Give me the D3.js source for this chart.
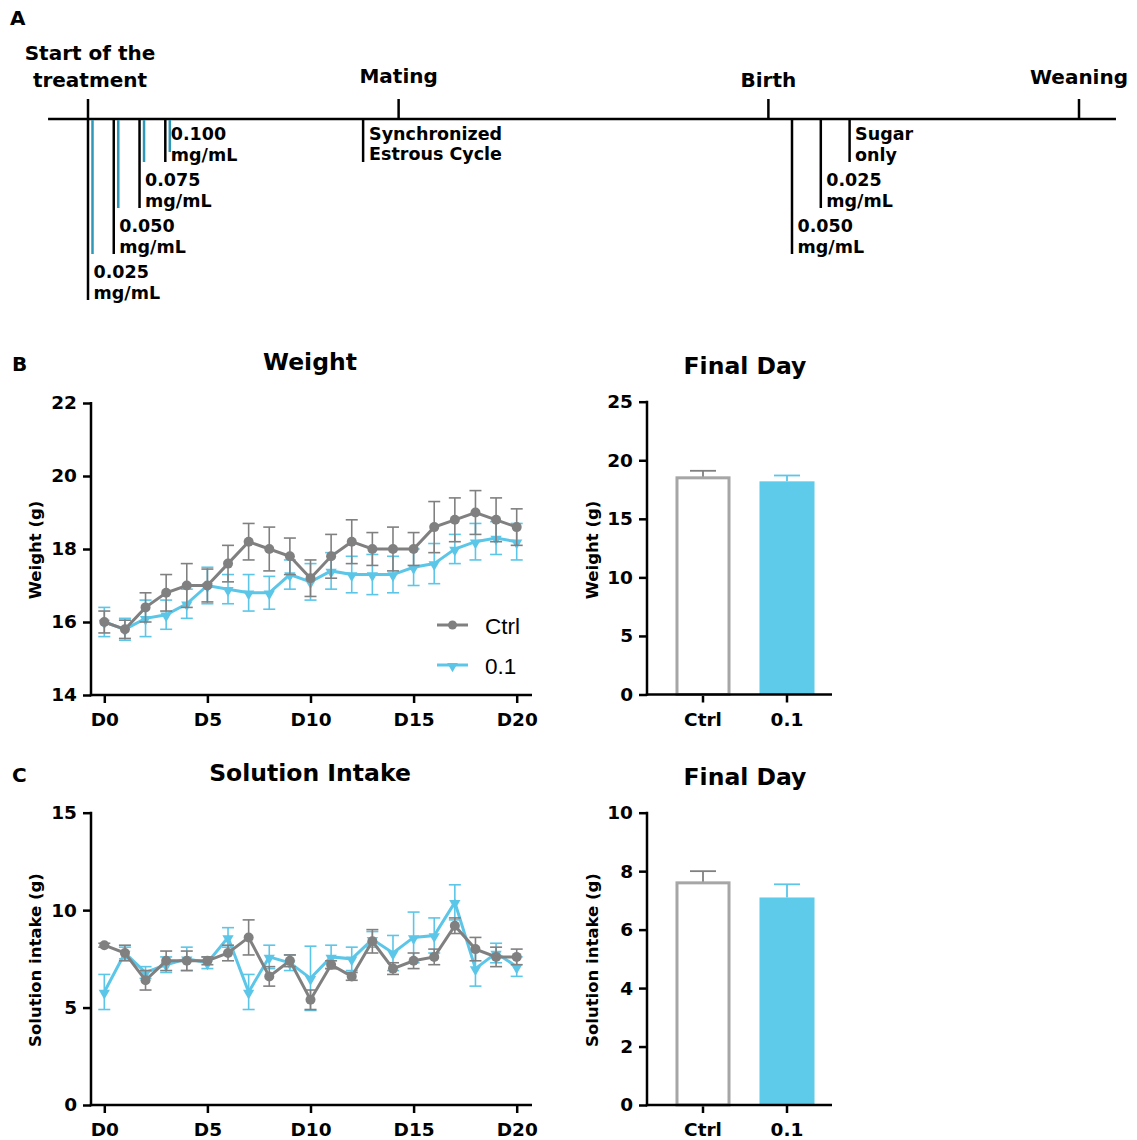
<!DOCTYPE html>
<html><head><meta charset="utf-8">
<script src="https://cdn.jsdelivr.net/npm/d3@7"></script>
<style>
body{margin:0;background:#fff}
svg{display:block}
text{font-family:"DejaVu Sans",sans-serif;font-weight:bold;fill:#000}
</style>
</head><body>
<svg id="fig" width="1137" height="1140"></svg>
<script>
// ---------------- DATA ----------------
const dayLabels = ["D0","D5","D10","D15","D20"];
const dayTicks = [0,5,10,15,20];
const days = [0,1,2,3,4,5,6,7,8,9,10,11,12,13,14,15,16,17,18,19,20];
const seriesNames = ["Ctrl","0.1"];

const weightCtrl    = [16.0,15.8,16.4,16.8,17.0,17.0,17.6,18.2,18.0,17.8,17.2,17.8,18.2,18.0,18.0,18.0,18.6,18.8,19.0,18.8,18.6];
const weightCtrlErr = [0.3,0.25,0.4,0.5,0.6,0.45,0.5,0.5,0.6,0.5,0.5,0.6,0.6,0.45,0.6,0.45,0.7,0.6,0.6,0.6,0.5];
const weightDose    = [16.0,15.8,16.1,16.2,16.5,17.0,16.9,16.8,16.8,17.3,17.1,17.4,17.3,17.3,17.3,17.5,17.6,18.0,18.2,18.3,18.2];
const weightDoseErr = [0.4,0.3,0.5,0.4,0.4,0.5,0.4,0.5,0.45,0.4,0.5,0.5,0.5,0.55,0.5,0.5,0.55,0.4,0.5,0.45,0.5];

const intakeCtrl    = [8.2,7.8,6.4,7.4,7.4,7.4,7.8,8.6,6.6,7.4,5.4,7.2,6.6,8.4,7.0,7.4,7.6,9.2,8.0,7.6,7.6];
const intakeCtrlErr = [0.1,0.4,0.5,0.5,0.5,0.2,0.4,0.9,0.5,0.3,0.5,0.2,0.2,0.6,0.3,0.4,0.4,0.4,0.6,0.5,0.4];
const intakeDose    = [5.8,7.8,6.8,7.2,7.5,7.3,8.6,5.8,7.6,7.3,6.5,7.6,7.5,8.5,7.8,8.6,8.7,10.4,7.0,7.8,7.1];
const intakeDoseErr = [0.9,0.3,0.3,0.4,0.6,0.3,0.5,0.9,0.6,0.4,1.65,0.6,0.6,0.4,0.9,1.3,0.9,0.9,0.9,0.5,0.5];

const finalWeight    = [18.5,18.2];
const finalWeightErr = [0.6,0.5];
const finalIntake    = [7.6,7.1];
const finalIntakeErr = [0.4,0.45];

const weightTicks = [14,16,18,20,22];
const intakeTicks = [0,5,10,15];
const finalWeightTicks = [0,5,10,15,20,25];
const finalIntakeTicks = [0,2,4,6,8,10];

// timeline (days from start of treatment)
const milestones = [
  {lines:["Start of the","treatment"], day:0},
  {lines:["Mating"], day:21},
  {lines:["Birth"], day:46},
  {lines:["Weaning"], day:67}
];
const doseStepsUp   = ["0.025","0.050","0.075","0.100"];   // increasing doses
const doseStepsDown = ["0.050","0.025","Sugar"];           // tapering after birth
const syncEvent = {lines:["Synchronized","Estrous Cycle"], day:18.6};

// ---------------- STYLE ----------------
const GRAY = "#808080", CYAN = "#5bc6e8", BARCYAN = "#5ecbea", BARGRAY = "#a6a6a6", TEAL = "#2f97b8";
const svg = d3.select("#fig");

function txt(g, x, y, s, size, anchor, weight, family) {
  return g.append("text").attr("x", x).attr("y", y).attr("dy", "0.35em")
    .attr("text-anchor", anchor || "start").style("font-size", size + "px")
    .style("font-weight", weight || "bold").style("font-family", family || null).text(s);
}

// ---------------- PANEL A ----------------
(function(){
  const g = svg.append("g");
  txt(g, 10, 18, "A", 20);
  const x = d3.scaleLinear().domain([0, 67]).range([88, 1079]);
  const yLine = 119;
  g.append("line").attr("x1", x(-2.7)).attr("x2", x(69.5)).attr("y1", yLine).attr("y2", yLine)
    .attr("stroke", "#000").attr("stroke-width", 2.5);
  const labelY = [[53,80],[76],[80],[77]];
  milestones.forEach((m, i) => {
    g.append("line").attr("x1", x(m.day)).attr("x2", x(m.day)).attr("y1", 99).attr("y2", yLine)
      .attr("stroke", "#000").attr("stroke-width", 2.5);
    m.lines.forEach((l, j) => txt(g, x(m.day) + (i === 0 ? 2 : 0), labelY[i][j], l, 20, "middle"));
  });
  g.append("line").attr("x1", x(syncEvent.day)).attr("x2", x(syncEvent.day)).attr("y1", yLine).attr("y2", 162)
    .attr("stroke", "#000").attr("stroke-width", 2.5);
  syncEvent.lines.forEach((l, j) => txt(g, x(syncEvent.day) + 6, 134 + j * 20, l, 17.5, "start"));

  const step = d3.scalePoint().domain(doseStepsUp).range([88, 165.3]);
  const depth = d3.scalePoint().domain(doseStepsUp).range([300, 162]);
  doseStepsUp.forEach((d, i) => {
    const xx = step(d);
    g.append("line").attr("x1", xx).attr("x2", xx).attr("y1", yLine).attr("y2", depth(d))
      .attr("stroke", "#000").attr("stroke-width", 2.5);
    const tealEnd = i < 3 ? depth(doseStepsUp[i + 1]) : 152;
    g.append("line").attr("x1", xx + 4.5).attr("x2", xx + 4.5).attr("y1", yLine + 1).attr("y2", tealEnd)
      .attr("stroke", TEAL).attr("stroke-width", 2.5);
    const ty = depth(d) - 28;
    txt(g, xx + 5.5, ty, d, 17.5, "start");
    txt(g, xx + 5.5, ty + 20.5, "mg/mL", 17.5, "start");
  });
  const step2 = d3.scalePoint().domain(doseStepsDown).range([792, 849.6]);
  const depth2 = d3.scalePoint().domain(doseStepsDown).range([254, 162]);
  doseStepsDown.forEach((d) => {
    const xx = step2(d);
    g.append("line").attr("x1", xx).attr("x2", xx).attr("y1", yLine).attr("y2", depth2(d))
      .attr("stroke", "#000").attr("stroke-width", 2.5);
    const ty = depth2(d) - 28;
    txt(g, xx + 5.5, ty, d, 17.5, "start");
    txt(g, xx + 5.5, ty + 20.5, d === "Sugar" ? "only" : "mg/mL", 17.5, "start");
  });
})();

// ---------------- helpers for axes ----------------
function styleAxis(sel, fontSize) {
  sel.selectAll("path.domain").remove();
  sel.selectAll(".tick line").attr("stroke", "#000").attr("stroke-width", 2.5);
  sel.selectAll(".tick text").style("font-size", fontSize + "px").style("font-family", "DejaVu Sans").style("font-weight", "bold").attr("fill", "#000");
}

function lineChart(cfg) {
  const g = svg.append("g");
  const x = d3.scaleLinear().domain([0, 20]).range([104.3, 516.7]);
  const y = d3.scaleLinear().domain(cfg.yDomain).range([cfg.bottom, cfg.top]);
  const ya = g.append("g").attr("transform", `translate(91,0)`)
    .call(d3.axisLeft(y).tickValues(cfg.yTicks).tickSize(8).tickPadding(6).tickSizeOuter(0));
  styleAxis(ya, 18.5);
  const xa = g.append("g").attr("transform", `translate(0,${cfg.bottom})`)
    .call(d3.axisBottom(x).tickValues(dayTicks).tickFormat((d, i) => dayLabels[i]).tickSize(8).tickPadding(10).tickSizeOuter(0));
  styleAxis(xa, 18.5);
  g.append("line").attr("x1", 91).attr("x2", 91).attr("y1", cfg.top - 1).attr("y2", cfg.bottom + 1.2)
    .attr("stroke", "#000").attr("stroke-width", 2.5);
  g.append("line").attr("x1", 89.8).attr("x2", 532).attr("y1", cfg.bottom).attr("y2", cfg.bottom)
    .attr("stroke", "#000").attr("stroke-width", 2.5);

  const series = [
    {vals: cfg.dose, err: cfg.doseErr, color: CYAN, marker: "tri"},
    {vals: cfg.ctrl, err: cfg.ctrlErr, color: GRAY, marker: "circle"}
  ];
  series.forEach(s => {
    const eg = g.append("g").attr("stroke", s.color).attr("stroke-width", 1.6);
    days.forEach((d, i) => {
      const cx = x(d), y1 = y(s.vals[i] - s.err[i]), y2 = y(s.vals[i] + s.err[i]);
      eg.append("line").attr("x1", cx).attr("x2", cx).attr("y1", y1).attr("y2", y2);
      eg.append("line").attr("x1", cx - 6).attr("x2", cx + 6).attr("y1", y1).attr("y2", y1);
      eg.append("line").attr("x1", cx - 6).attr("x2", cx + 6).attr("y1", y2).attr("y2", y2);
    });
    g.append("path").datum(days).attr("fill", "none").attr("stroke", s.color).attr("stroke-width", 3)
      .attr("d", d3.line().x(d => x(d)).y((d, i) => y(s.vals[i])));
    days.forEach((d, i) => {
      if (s.marker === "circle") {
        g.append("circle").attr("cx", x(d)).attr("cy", y(s.vals[i])).attr("r", 5).attr("fill", s.color);
      } else {
        g.append("path").attr("d", d3.symbol(d3.symbolTriangle, 55)())
          .attr("transform", `translate(${x(d)},${y(s.vals[i]) + 1}) rotate(180)`).attr("fill", s.color);
      }
    });
  });
  txt(g, 310, cfg.titleY, cfg.title, 23.5, "middle");
  txt(g, 12, cfg.titleY + 2, cfg.letter, 20, "start");
  g.append("text").attr("transform", `translate(35,${cfg.labelY}) rotate(-90)`).attr("dy", "0.35em")
    .attr("text-anchor", "middle").style("font-size", "16.5px").text(cfg.yLabel);
  if (cfg.legend) {
    const lg = g.append("g");
    [{c: GRAY, m: "circle", yy: 625, name: seriesNames[0]}, {c: CYAN, m: "tri", yy: 665, name: seriesNames[1]}].forEach(l => {
      lg.append("line").attr("x1", 437).attr("x2", 468).attr("y1", l.yy).attr("y2", l.yy).attr("stroke", l.c).attr("stroke-width", 3);
      if (l.m === "circle") lg.append("circle").attr("cx", 452.5).attr("cy", l.yy).attr("r", 4.5).attr("fill", l.c);
      else lg.append("path").attr("d", d3.symbol(d3.symbolTriangle, 50)()).attr("transform", `translate(452.5,${l.yy + 1}) rotate(180)`).attr("fill", l.c);
      txt(lg, 485, l.yy + 1, l.name, 22.5, "start", "normal", "Liberation Sans");
    });
  }
}

function barChart(cfg) {
  const g = svg.append("g");
  const x = d3.scaleBand().domain(seriesNames).range([661, 829]).paddingInner(0.345).paddingOuter(0.1725);
  const y = d3.scaleLinear().domain(cfg.yDomain).range([cfg.bottom, cfg.top]);
  const ya = g.append("g").attr("transform", `translate(647,0)`)
    .call(d3.axisLeft(y).tickValues(cfg.yTicks).tickSize(8).tickPadding(6).tickSizeOuter(0));
  styleAxis(ya, 18.5);
  const xa = g.append("g").attr("transform", `translate(0,${cfg.bottom})`)
    .call(d3.axisBottom(x).tickSize(8).tickPadding(10).tickSizeOuter(0));
  styleAxis(xa, 18.5);
  const vals = cfg.vals, errs = cfg.errs;
  seriesNames.forEach((n, i) => {
    const cx = x(n) + x.bandwidth() / 2;
    const top = y(vals[i] + errs[i]);
    const ec = i === 0 ? GRAY : CYAN;
    g.append("line").attr("x1", cx).attr("x2", cx).attr("y1", y(vals[i])).attr("y2", top).attr("stroke", ec).attr("stroke-width", 1.8);
    g.append("line").attr("x1", cx - 13).attr("x2", cx + 13).attr("y1", top).attr("y2", top).attr("stroke", ec).attr("stroke-width", 1.8);
    if (i === 0) {
      g.append("rect").attr("x", x(n) + 1.5).attr("y", y(vals[i])).attr("width", x.bandwidth() - 3)
        .attr("height", cfg.bottom - y(vals[i])).attr("fill", "#fff").attr("stroke", BARGRAY).attr("stroke-width", 3);
    } else {
      g.append("rect").attr("x", x(n)).attr("y", y(vals[i])).attr("width", x.bandwidth())
        .attr("height", cfg.bottom - y(vals[i])).attr("fill", BARCYAN);
    }
  });
  g.append("line").attr("x1", 647).attr("x2", 647).attr("y1", cfg.top - 1).attr("y2", cfg.bottom + 1.2)
    .attr("stroke", "#000").attr("stroke-width", 2.5);
  g.append("line").attr("x1", 645.8).attr("x2", 832).attr("y1", cfg.bottom).attr("y2", cfg.bottom)
    .attr("stroke", "#000").attr("stroke-width", 2.5);
  txt(g, 745, cfg.titleY, "Final Day", 23.5, "middle");
  g.append("text").attr("transform", `translate(592,${cfg.labelY}) rotate(-90)`).attr("dy", "0.35em")
    .attr("text-anchor", "middle").style("font-size", "16.5px").text(cfg.yLabel);
}

lineChart({yDomain:[14,22], yTicks: weightTicks, top:403, bottom:695, ctrl: weightCtrl, ctrlErr: weightCtrlErr,
  dose: weightDose, doseErr: weightDoseErr, title:"Weight", titleY:362, letter:"B", yLabel:"Weight (g)", labelY:550, legend:true});
lineChart({yDomain:[0,15], yTicks: intakeTicks, top:812.7, bottom:1105, ctrl: intakeCtrl, ctrlErr: intakeCtrlErr,
  dose: intakeDose, doseErr: intakeDoseErr, title:"Solution Intake", titleY:773, letter:"C", yLabel:"Solution intake (g)", labelY:960, legend:false});
barChart({yDomain:[0,25], yTicks: finalWeightTicks, top:401.7, bottom:694.5, vals: finalWeight, errs: finalWeightErr,
  titleY:366, yLabel:"Weight (g)", labelY:550});
barChart({yDomain:[0,10], yTicks: finalIntakeTicks, top:812.7, bottom:1105, vals: finalIntake, errs: finalIntakeErr,
  titleY:777, yLabel:"Solution intake (g)", labelY:960});
</script>
</body></html>
